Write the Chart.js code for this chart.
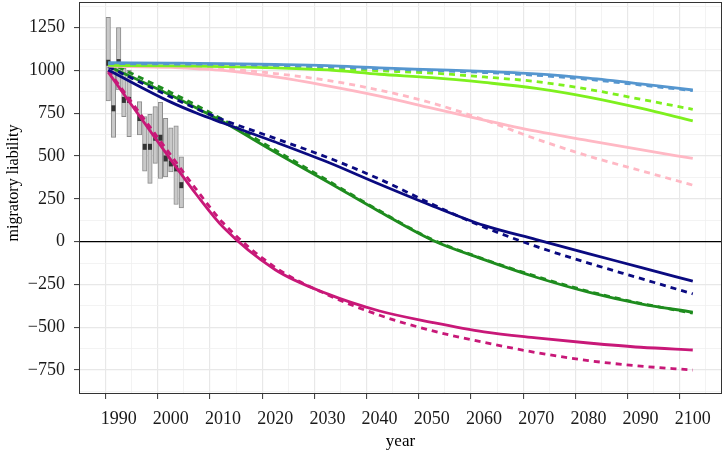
<!DOCTYPE html>
<html>
<head>
<meta charset="utf-8">
<script src="https://cdn.jsdelivr.net/npm/chart.js@4"></script>
<style>
  html, body { margin: 0; padding: 0; background: #fff; }
</style>
</head>
<body>
<canvas id="chart" width="723" height="456"></canvas>
<script>
// observed boxes (gray ranges + dark medians)
const boxYears = [1988, 1989, 1990, 1991, 1992, 1994, 1995, 1996, 1997, 1998, 1999, 2000, 2001, 2002];
const boxLow   = [822, 609, 886, 730, 613, 623, 412, 340, 457, 369, 378, 408, 217, 197];
const boxHigh  = [1310, 1033, 1251, 1013, 1003, 818, 730, 744, 789, 814, 721, 665, 677, 496];
const boxMid   = [1045, 779, 1049, 828, 828, 722, 554, 554, 607, 607, 486, 457, 428, 330];

// projections
const lineYears = [1988, 2000, 2005, 2010, 2020, 2030, 2040, 2050, 2060, 2070, 2080, 2090, 2100];
const blueSolid    = [1045, 1043, 1042, 1040, 1035, 1028, 1015, 1005, 995, 980, 955, 922, 886];
const blueDashed   = [1040, 1038, 1037, 1035, 1030, 1022, 1010, 1000, 988, 972, 948, 915, 882];
const limeSolid    = [1030, 1027, 1025, 1022, 1015, 1003, 978, 958, 930, 896, 845, 780, 706];
const limeDashed   = [1035, 1032, 1030, 1028, 1022, 1012, 998, 985, 962, 935, 890, 832, 773];
const pinkSolid    = [1025, 1018, 1010, 1000, 962, 910, 850, 780, 710, 645, 590, 537, 486];
const pinkDashed   = [1030, 1025, 1020, 1010, 982, 942, 885, 810, 712, 600, 500, 415, 330];
const navySolid    = [1003, 815, 750, 693, 582, 465, 335, 210, 95, 12, -70, -150, -231];
const navyDashed   = [1022, 845, 775, 712, 603, 492, 365, 220, 85, -28, -125, -215, -305];
const greenSolid   = [1025, 855, 780, 700, 522, 350, 175, 10, -105, -208, -295, -363, -412];
const greenDashed  = [1048, 872, 795, 712, 535, 358, 180, 14, -102, -203, -290, -360, -418];
const violetSolid  = [990, 478, 271, 85, -164, -305, -405, -471, -527, -562, -592, -617, -633];
const violetDashed = [1000, 505, 300, 110, -150, -310, -430, -520, -588, -648, -695, -727, -750];

// axis ticks
const xMajor = [1990, 2000, 2010, 2020, 2030, 2040, 2050, 2060, 2070, 2080, 2090, 2100];
const xMinor = [1985, 1995, 2005, 2015, 2025, 2035, 2045, 2055, 2065, 2075, 2085, 2095, 2105];
const yMajor = [-750, -500, -250, 0, 250, 500, 750, 1000, 1250];
const yMinor = [-875, -625, -375, -125, 125, 375, 625, 875, 1125, 1375];

const FONT = "'Liberation Serif', 'Times New Roman', serif";
const Y_TITLE = 'migratory liability';

function pts(vals) {
  return lineYears.map((x, i) => ({ x, y: vals[i] }));
}

function lineSet(vals, color, dashed) {
  return {
    type: 'line',
    data: pts(vals),
    borderColor: color,
    borderWidth: 2.8,
    borderDash: dashed ? [6, 5] : [],
    pointRadius: 0,
    fill: false,
    cubicInterpolationMode: 'monotone',
    order: 1
  };
}

// panel border + y title (title sits a bit above the panel centre, as in the original)
const panelBorder = {
  id: 'panelBorder',
  afterDatasetsDraw(chart) {
    const { ctx, chartArea: a } = chart;
    ctx.save();
    ctx.strokeStyle = '#333';
    ctx.lineWidth = 1;
    ctx.strokeRect(a.left + 0.5, a.top + 0.5, a.right - a.left - 1, a.bottom - a.top - 1);
    ctx.restore();
  },
  afterDraw(chart) {
    const { ctx } = chart;
    ctx.save();
    ctx.translate(14, 183);
    ctx.rotate(-Math.PI / 2);
    ctx.font = '16px ' + FONT;
    ctx.fillStyle = '#000';
    ctx.textAlign = 'center';
    ctx.textBaseline = 'middle';
    ctx.fillText(Y_TITLE, 0, 0);
    ctx.restore();
  }
};

const tv = c => (c && c.tick) ? c.tick.value : NaN;
const isMajorX = v => xMajor.includes(v);
const isMajorY = v => yMajor.includes(v);

const ctx = document.getElementById('chart').getContext('2d');
new Chart(ctx, {
  type: 'line',
  data: {
    datasets: [
      {
        type: 'bar',
        data: boxYears.map((x, i) => ({ x, y: [boxLow[i], boxHigh[i]] })),
        backgroundColor: '#C9C9C9',
        borderColor: '#8C8C8C',
        borderWidth: 1,
        borderSkipped: false,
        barThickness: 4.5,
        grouped: false,
        order: 10
      },
      {
        type: 'line',
        data: boxYears.map((x, i) => ({ x, y: boxMid[i] })),
        showLine: false,
        pointStyle: 'line',
        rotation: 90,
        pointRadius: 3,
        pointBorderWidth: 4,
        pointBorderColor: '#333',
        order: 5
      },
      lineSet(blueSolid, '#5596CF', false),
      lineSet(blueDashed, '#5596CF', true),
      lineSet(limeSolid, '#7EF01E', false),
      lineSet(limeDashed, '#7EF01E', true),
      lineSet(pinkSolid, '#FFB8C4', false),
      lineSet(pinkDashed, '#FFB8C4', true),
      lineSet(navySolid, '#0A0A80', false),
      lineSet(navyDashed, '#0A0A80', true),
      lineSet(greenSolid, '#1E8C1E', false),
      lineSet(greenDashed, '#1E8C1E', true),
      lineSet(violetSolid, '#C81878', false),
      lineSet(violetDashed, '#C81878', true)
    ]
  },
  options: {
    responsive: false,
    animation: false,
    devicePixelRatio: 1,
    layout: { autoPadding: false, padding: { top: 2, right: 1, left: 0, bottom: 0 } },
    plugins: { legend: { display: false }, tooltip: { enabled: false } },
    scales: {
      x: {
        type: 'linear',
        min: 1982.4,
        max: 2105.6,
        offset: false,
        afterBuildTicks: s => { s.ticks = xMajor.concat(xMinor).sort((a, b) => a - b).map(v => ({ value: v })); },
        afterFit: s => { s.height = 62; s.paddingLeft = 0; s.paddingRight = 0; },
        border: { display: false },
        grid: {
          color: c => isMajorX(tv(c)) ? '#E8E8E8' : '#F0F0F0',
          lineWidth: c => isMajorX(tv(c)) ? 1.2 : 0.8,
          tickColor: c => isMajorX(tv(c)) ? '#333' : 'rgba(0,0,0,0)',
          tickLength: 5,
          tickWidth: 1
        },
        ticks: {
          autoSkip: false,
          maxRotation: 0,
          padding: 9,
          color: '#1a1a1a',
          font: { family: FONT, size: 18 },
          callback: v => isMajorX(v) ? String(v) : ''
        },
        title: {
          display: true,
          text: 'year',
          color: '#000',
          font: { family: FONT, size: 17 },
          padding: { top: 0, bottom: 4 }
        }
      },
      y: {
        type: 'linear',
        min: -890,
        max: 1400,
        afterBuildTicks: s => { s.ticks = yMajor.concat(yMinor).sort((a, b) => a - b).map(v => ({ value: v })); },
        afterFit: s => { s.width = 79; s.paddingTop = 0; s.paddingBottom = 0; },
        border: { display: false },
        grid: {
          color: c => tv(c) === 0 ? '#000' : (isMajorY(tv(c)) ? '#E8E8E8' : '#F0F0F0'),
          lineWidth: c => isMajorY(tv(c)) ? 1.2 : 0.8,
          tickColor: c => isMajorY(tv(c)) ? '#333' : 'rgba(0,0,0,0)',
          tickLength: 5,
          tickWidth: 1
        },
        ticks: {
          autoSkip: false,
          padding: 9,
          color: '#1a1a1a',
          font: { family: FONT, size: 18 },
          callback: v => isMajorY(v) ? String(v).replace('-', '\u2212') : ''
        },
        title: { display: false }
      }
    }
  },
  plugins: [panelBorder]
});
</script>
</body>
</html>
